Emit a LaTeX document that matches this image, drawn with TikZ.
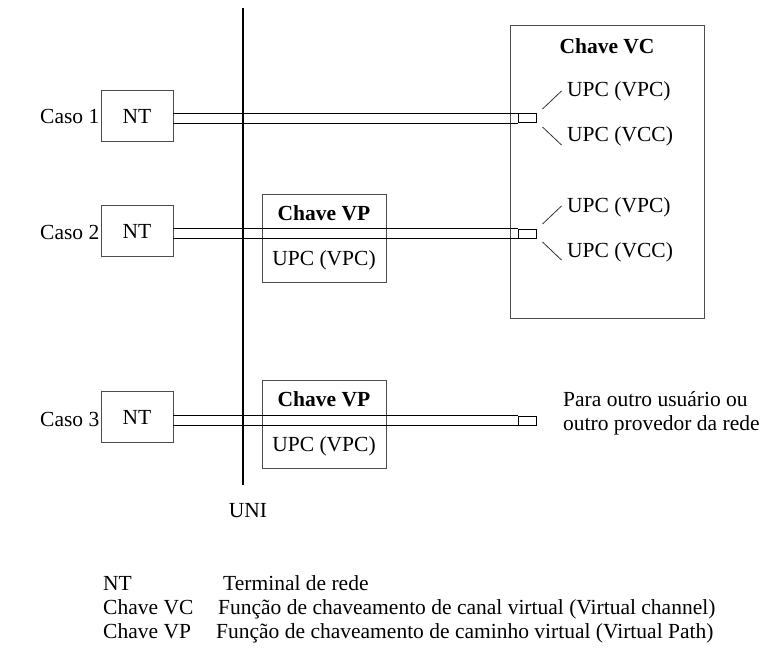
\documentclass[tikz,border=0pt]{standalone}
\usepackage{fontspec}
\setmainfont{Liberation Serif}
\usetikzlibrary{calc}
\begin{document}
\begin{tikzpicture}[x=1pt,y=-1pt,
  every node/.style={font=\fontsize{21.5}{25}\selectfont, inner sep=0pt},
  box/.style={draw=black!70, line width=0.9pt, rectangle},
  ntbox/.style={box, minimum width=72pt, minimum height=51pt},
  vpbox/.style={box, minimum width=124pt, minimum height=88pt},
  port/.style={draw=black, line width=1pt, minimum width=18pt, minimum height=9pt},
  rail/.style={draw=black, line width=1pt},
  tick/.style={draw=black!80, line width=0.8pt},
  lbl/.style={anchor=base west},
  bold/.style={font=\fontsize{21.5}{25}\selectfont\bfseries}]
\useasboundingbox (0,0) rectangle (760,650);

% switch boxes
\node[box, minimum width=194pt, minimum height=293pt] (vc) at (607,171.5) {};
\node[bold, anchor=base] (vctitle) at (607,54) {Chave VC};
\node[vpbox] (vp2) at (324,238) {};
\node[vpbox] (vp3) at (324,424) {};
\node[bold, anchor=base] (vp2t) at (324,220) {Chave VP};
\node[anchor=base] (vp2u) at (324,265) {UPC (VPC)};
\node[bold, anchor=base] (vp3t) at (324,406) {Chave VP};
\node[anchor=base] (vp3u) at (324,451) {UPC (VPC)};

% network terminals
\node[ntbox] (nt1) at (137,116) {};
\node[ntbox] (nt2) at (137,231) {};
\node[ntbox] (nt3) at (137,417) {};
\foreach \n in {1,2,3}{
  \node[anchor=base] (ntl\n) at ([yshift=-7.5pt]nt\n.center) {NT};
}

% case labels
\node[lbl] (c1) at (40,124) {Caso 1};
\node[lbl] (c2) at (40,239) {Caso 2};
\node[lbl] (c3) at (40,426) {Caso 3};

% channel ends
\node[port] (p1) at (527,118.5) {};
\node[port] (p2) at (527,233.5) {};
\node[port] (p3) at (527,420.5) {};

% channels: two parallel rails from NT to channel end
\foreach \n in {1,2,3}{
  \draw[rail] (nt\n.east |- p\n.north) -- (p\n.north west);
  \draw[rail] (nt\n.east |- p\n.south) -- (p\n.south west);
}

% UNI reference line
\coordinate (unitop) at (243,8);
\coordinate (unibot) at (243,485);
\draw[black, line width=2pt] (unitop) -- (unibot);
\node[anchor=base] (uni) at (248,517) {UNI};

% split into VPC / VCC inside the VC switch
\foreach \n in {1,2}{
  \draw[tick] ($(p\n.east)+(6,-9.5)$) -- ++(19,-18);
  \draw[tick] ($(p\n.east)+(6,8.5)$) -- ++(19,18);
}
\node[lbl] (u1a) at (567,97) {UPC (VPC)};
\node[lbl] (u1b) at (567,142) {UPC (VCC)};
\node[lbl] (u2a) at (567,212) {UPC (VPC)};
\node[lbl] (u2b) at (567,257) {UPC (VCC)};

% onward destination for case 3
\node[lbl] (dest1) at (563,406) {Para outro usuário ou};
\node[lbl] (dest2) at (563,430) {outro provedor da rede};

% legend
\node[lbl] (k1) at (103,590) {NT};
\node[lbl] (k2) at (103,614) {Chave VC};
\node[lbl] (k3) at (103,638) {Chave VP};
\node[lbl] (d1) at (223,590) {Terminal de rede};
\node[lbl] (d2) at (218,614) {Função de chaveamento de canal virtual (Virtual channel)};
\node[lbl] (d3) at (216,638) {Função de chaveamento de caminho virtual (Virtual Path)};
\end{tikzpicture}
\end{document}
